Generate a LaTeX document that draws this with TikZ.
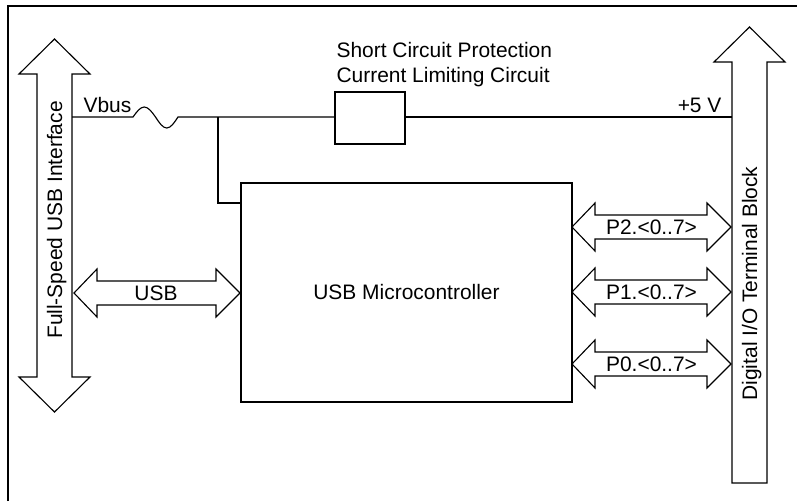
\documentclass[tikz,border=0pt]{standalone}
\usepackage{fontspec}
\setmainfont{Liberation Sans}
\usetikzlibrary{positioning,calc}

\begin{document}
\begin{tikzpicture}[x=0.025cm, y=-0.025cm, line width=0.8pt,
    every node/.style={font=\fontsize{14.9}{17.8}\selectfont, inner sep=0pt},
    bus/.style={draw, fill=white, line join=miter},
    block/.style={draw, minimum width=8.275cm, minimum height=5.475cm}]
    \useasboundingbox (0,0) rectangle (797,501);
    % Frame
    \draw[line width=1.9pt] (8,501) -- (8,6) -- (797,6);

    % Full-Speed USB Interface
    \draw[bus] (54.5,39) -- (90,74) -- (72,74) -- (72,377) -- (90,377) -- (54.5,412)
        -- (19,377) -- (37,377) -- (37,74) -- (19,74) -- cycle;
    \node[rotate=90, anchor=base] (usbif) at (62,220) {Full-Speed USB Interface};

    % Digital I/O Terminal Block
    \draw[bus] (749.5,27) -- (785,62) -- (767,62) -- (767,483) -- (732,483)
        -- (732,62) -- (714,62) -- cycle;
    \node[rotate=90, anchor=base] (dio) at (757,283.5) {Digital I/O Terminal Block};

    % Microcontroller and protection
    \node[block] (mcu) at (406.5,292.5) {USB Microcontroller};
    \node[draw, line width=1.4pt, minimum width=1.75cm, minimum height=1.3cm] (prot) at (370,118) {};
    \node[anchor=north west, align=left] (protlbl) at (336,42)
        {Short Circuit Protection\\Current Limiting Circuit};

    % Vbus line
    \coordinate (vbusin) at (72,117);
    \coordinate (fusea) at (133,117);
    \coordinate (fuseb) at (178,117);
    \coordinate (tap) at (218,117);
    \coordinate (vcc) at (732,117);
    \coordinate (mcuin) at (241,203);
    \node[anchor=base west] (vbus) at (83,112) {Vbus};
    \node[anchor=base east] (plus5) at (722,112) {+5 V};
    \draw (vbusin) -- (fusea) sin (144.25,107) cos (155.5,117) sin (166.75,128) cos (fuseb)
        -- (vbusin -| prot.west);
    \draw (vbusin -| prot.east) -- (vcc);
    \draw (tap) |- (mcuin);

    % USB bus
    \draw[bus] (74,293) -- (97,269) -- (97,281) -- (216,281) -- (216,269) -- (240,293)
        -- (216,317) -- (216,305) -- (97,305) -- (97,317) -- cycle;
    \node (usb) at (156,293) {USB};

    % Port buses
    \foreach \y/\p in {227/2, 292/1, 364/0} {
        \draw[bus] (572,\y) -- (595,\y-24) -- (595,\y-12) -- (707,\y-12) -- (707,\y-24)
            -- (731,\y) -- (707,\y+24) -- (707,\y+12) -- (595,\y+12) -- (595,\y+24) -- cycle;
        \node (p\p) at (651.5,\y) {P\p.<0..7>};
    }
\end{tikzpicture}
\end{document}
